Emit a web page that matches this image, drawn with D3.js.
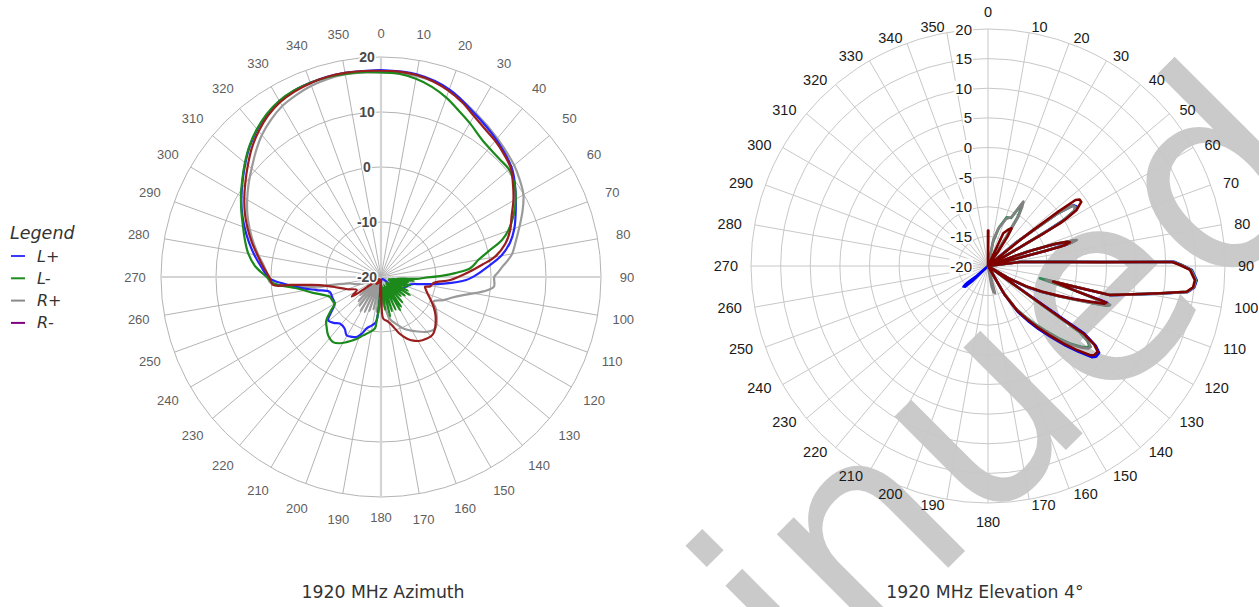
<!DOCTYPE html>
<html><head><meta charset="utf-8">
<script src="https://cdn.jsdelivr.net/npm/d3@7"></script>
<style>body{margin:0;background:#fff;}svg{display:block;}</style>
</head><body>
<svg id="chart" width="1259" height="607"></svg>
<script>
// ---------------- DATA ----------------
const azAngleTicks = [0,10,20,30,40,50,60,70,80,90,100,110,120,130,140,150,160,170,180,190,200,210,220,230,240,250,260,270,280,290,300,310,320,330,340,350];
const azRingTicks = [-20,-10,0,10,20];
const elAngleTicks = azAngleTicks;
const elRingTicks = [-20,-15,-10,-5,0,5,10,15,20];
const legendLabels = ["L+","L-","R+","R-"];
const legendColors = ["#3a3aff","#1e8c1e","#8a8a8a","#800080"];
const titles = ["1920 MHz Azimuth","1920 MHz Elevation 4°"];
const watermarkText = "Discontinued";

// Azimuth series: [angle deg, dB]
const azRplus = [[0,17.2],[10,17.1],[20,16.2],[30,14.4],[40,12.9],[50,11.6],[55,10.8],[60,9.9],[65,8.4],[70,6.8],[75,5.4],[80,4.2],[82.4,3.3],[85,2.2],[88,1.2],[90,0.6],[94.9,0.6],[98,-1.2],[102.4,-4.7],[106,-6.5],[110.3,-7.9],[115.3,-9.5],[120,-8.5],[127,-7.3],[133.5,-6.4],[140.1,-7],[148,-8.4],[156.5,-9.8],[162,-11],[168.2,-12.2],[173,-14.5],[176,-15],[178,-19],[181,-14.5],[184,-19],[187,-13.6],[190,-19],[193,-14],[196,-19],[199,-13.5],[202,-19],[205,-13],[208,-19],[211,-12.8],[214,-18.5],[217,-13.5],[220,-19],[223,-14],[226,-19],[229,-15],[232,-19],[236,-17],[242,-18],[250,-16.5],[255,-15],[258.5,-14.2],[262,-7],[265,-2],[267.6,0.3],[270,0.5],[275,1.3],[280,2.6],[285,4],[290,5.4],[295,6.8],[300,8.1],[305,9.4],[310,10.7],[315,12.2],[320,13.7],[325,14.9],[330,15.9],[335,16.5],[340,17],[345,17.3],[350,17.4],[355,17.3],[360,17.2]];
const azLplus = [[0,17.6],[10,17.4],[20,16.3],[30,14.2],[40,12.6],[50,11],[55,9.7],[60,8.3],[65,7],[70,5.8],[75,4.3],[80,2.2],[85,-0.8],[88,-2.3],[92,-4.5],[96,-8.5],[100,-12.5],[104,-14.5],[110,-15],[117,-15.5],[124,-15.8],[130,-18.5],[140,-19.5],[170,-19.5],[180,-19],[183,-16],[185.7,-12.1],[187.4,-11.5],[191,-11],[195.6,-10.3],[199,-9],[202.2,-8.2],[206,-7.9],[210.6,-7.7],[215,-8.5],[221.5,-8.7],[226,-8],[230.8,-7.6],[235,-9],[240.2,-10.3],[247,-10.4],[253.9,-10.3],[258.6,-8],[262,-5.5],[266,-2.3],[269.3,0.3],[275,1.9],[280,3.4],[285,4.9],[290,6.4],[295,7.9],[300,9.3],[305,10.7],[310,12.2],[315,13.7],[320,15],[325,16.1],[330,16.9],[335,17.4],[340,17.6],[345,17.7],[350,17.7],[355,17.6],[360,17.6]];
const azLminus = [[0,17.2],[5,17.1],[10,16.6],[15,15.8],[20,14.7],[25,13.4],[30,12.3],[37,10.9],[45,10.4],[50,10.4],[55,9.6],[60,8.3],[65,6.6],[70,4.6],[73,3],[76.7,0],[80,-2],[84.4,-3.7],[87,-6.5],[89,-9],[91,-12],[93,-13.5],[95,-17],[97,-14],[99,-18],[101,-15],[103,-18.5],[106,-14.5],[108,-18.5],[111,-15],[114,-18.5],[117,-14.5],[120,-18],[122,-13.8],[125,-18],[128,-14.5],[131,-18.5],[134,-15],[137,-18.5],[140,-14],[143,-18.5],[146,-13.5],[148,-18],[150,-13],[153,-18],[156,-13.5],[159,-18.5],[162,-13.5],[165,-18],[167,-12.6],[170,-18],[173,-14],[176,-18.5],[179,-15],[182,-19],[184,-14],[185.7,-12.1],[186.7,-10.6],[192,-9.7],[197,-8.9],[202,-7.8],[207.9,-6.6],[212,-5.8],[216.4,-5.3],[222.3,-5.7],[227,-6.5],[231.6,-7.3],[236,-9],[240.2,-10.3],[244,-10.2],[248.9,-10],[256.9,-7.3],[262.4,-4.5],[266.7,-0.4],[270,0.8],[275,3],[280,4.5],[285,5.6],[290,6.7],[295,8],[300,9.4],[305,10.8],[310,12.3],[315,13.8],[320,15.1],[325,16.2],[330,17],[335,17.4],[340,17.6],[345,17.6],[350,17.5],[355,17.4],[360,17.2]];
const azRminus = [[0,17.5],[5,17.5],[10,17.3],[15,16.8],[20,16],[25,15],[30,13.8],[35,12.9],[40,12.3],[45,11.6],[50,10.8],[55,9.3],[60,7.8],[65,6.2],[70,5],[75,3.4],[80,1],[83,-1.4],[86.6,-3.9],[92.5,-7.4],[96.6,-10.4],[101,-10.9],[102.4,-11.8],[106,-11.5],[110.8,-10.8],[115,-10],[119.6,-9],[125,-7.9],[132.6,-6.6],[137,-6],[140,-5.9],[144,-6.1],[148.5,-6.4],[153,-7],[157.3,-7.9],[162,-9.2],[166.1,-10.7],[171,-11.8],[176.8,-12.4],[179,-15],[181,-19],[183,-16.5],[186,-19.5],[200,-19],[215,-18.5],[225,-19.5],[234,-17],[236,-13.6],[242,-15],[250,-13.5],[258.5,-11.1],[262.5,-8.8],[264.4,-5.2],[265,-3.4],[265.8,-0.3],[270,0.3],[275,1.5],[280,2.8],[285,4.3],[290,5.8],[295,7.3],[300,8.7],[305,10.1],[310,11.6],[315,13.2],[320,14.6],[325,15.8],[330,16.7],[335,17.2],[340,17.5],[345,17.7],[350,17.7],[355,17.6],[360,17.5]];

// Elevation series: [angle deg, dB] in drawing order
const elRminus = [[0,-20],[0,-14],[0.6,-14],[0.8,-20],[22,-20],[25,-13.9],[29,-13],[32,-12.5],[33.5,-14],[35,-17],[37,-20],[49,-20],[51,-13],[51.5,-10.2],[52.3,-5],[53,-1.5],[54,-0.9],[55.5,-0.9],[56.5,-1.6],[57.7,-2.3],[58.8,-4.5],[59.3,-5.9],[59.6,-9],[59.6,-12.4],[60,-16],[61,-20],[68,-20],[69.5,-15],[70.5,-11.9],[71.8,-8],[73,-6],[73.8,-5.6],[74.6,-6.3],[75,-7.4],[75.2,-11],[75.5,-15],[76,-20],[80,-20],[82.9,-14.6],[86.8,-7.8],[88,-1.1],[88.5,5.7],[88.75,11.1],[89.7,12.4],[91.1,14.1],[93.9,15],[95.9,14.8],[97.4,13.8],[99,9.4],[101,5],[103.4,1.1],[103.5,-8.7],[105.9,-4.5],[106.9,-0.2],[107.2,0.9],[108,0.6],[109.3,-1.8],[111,-4.5],[113,-7.2],[115.5,-10],[118,-12.6],[121,-16],[123,-20],[124,-20],[125.5,-11],[125.5,-4.3],[125.3,-0.3],[126.5,2.3],[128,3.5],[130,3.4],[131.1,2.9],[133.5,0.5],[135.8,-1.8],[138.5,-4.5],[141.3,-6.9],[144,-9],[146.9,-11.1],[150,-14.5],[154,-20],[360,-20]];
const elLplus = [[0,-20],[45,-20],[50,-14],[51.8,-10.5],[53,-5],[54.5,-2.3],[56,-2],[57.5,-2.6],[58.8,-5],[59.3,-8],[59.8,-13],[61,-20],[68,-20],[70,-13],[71.8,-8.5],[73.2,-6],[74,-5.2],[74.8,-6.5],[75.3,-10],[76,-20],[80,-20],[82.9,-14.3],[86.8,-7.4],[88,-0.8],[88.5,6],[88.7,11.4],[89.7,12.7],[91.1,14.4],[93.9,15.3],[95.9,15],[97.4,14],[99,9.6],[101,5.2],[103.4,1.3],[103.5,-8.5],[105.9,-4.2],[106.9,0],[107.2,1.1],[108,0.8],[109.3,-1.5],[111,-4.3],[113,-7],[115.5,-9.7],[118,-12.3],[121,-16],[123,-20],[124,-20],[125.3,-11],[125.2,-4.3],[125,-0.2],[126.5,2.6],[128,3.8],[130,3.8],[131.3,3.3],[133.5,1],[135.8,-1.3],[138.5,-4],[141.3,-6.4],[144,-8.6],[146.9,-10.8],[150,-14.5],[154,-20],[224,-20],[226,-16.5],[228,-14.8],[230,-14.6],[231,-15.5],[229,-17.5],[232,-20],[360,-20]];
const elLminus = [[0,-20],[10,-20],[12,-15.8],[16,-13.2],[21,-11.2],[25.7,-11],[28.5,-8.2],[30,-9],[31.4,-10.5],[32.3,-14.3],[34,-20],[45,-20],[50,-14],[51.8,-10.5],[53,-5.2],[54.5,-2.5],[56,-2.2],[57.5,-2.8],[58.8,-5.2],[59.3,-8.2],[59.8,-13],[61,-20],[68,-20],[70,-13],[71.8,-8],[73.2,-5.5],[73.8,-4.8],[74.6,-6],[75.2,-10],[76,-20],[80,-20],[82.9,-14.4],[86.8,-7.6],[88,-0.9],[88.5,5.9],[88.75,11.3],[89.7,12.6],[91.1,14.3],[93.9,15.2],[95.9,14.9],[97.4,13.9],[99,9.5],[101,5.1],[103.3,1.2],[103.3,-11],[105.9,-4],[107.5,0.5],[107.7,1.6],[108.4,1.2],[109.5,-1.2],[111,-4],[113,-6.8],[115.5,-9.8],[118,-12.5],[121,-16],[123,-20],[124,-20],[125.8,-11],[125.8,-4.5],[125.8,-1],[127,1],[128.2,1.8],[129.5,1.6],[131,0.8],[133.5,-1],[135.8,-3],[138.5,-5.5],[141.3,-7.6],[144,-9.6],[146.9,-11.5],[150,-15],[154,-20],[360,-20]];
const elRplus = [[0,-20],[10,-20],[11.5,-15.5],[15.4,-13.5],[21,-11.5],[25.7,-10.8],[28.8,-7.6],[30.2,-8.6],[31.6,-10.2],[32.5,-14.1],[34,-20],[45,-20],[50,-14],[51.8,-10.5],[53,-5.2],[54.5,-2.4],[56,-2.2],[57.5,-2.8],[58.8,-5.1],[59.3,-8.2],[59.8,-13],[61,-20],[68,-20],[70,-13],[71.8,-7.8],[73.2,-5.2],[73.7,-4.4],[74.6,-5.6],[75.2,-10],[76,-20],[80,-20],[82.9,-14.5],[86.8,-7.7],[88,-1],[88.5,5.8],[88.75,11.2],[89.7,12.5],[91.1,14.2],[93.9,15.1],[95.9,14.9],[97.4,13.9],[99,9.5],[101,5.1],[103.3,1.2],[103.4,-10],[105.9,-4],[107.5,0.5],[107.7,1.6],[108.4,1.3],[109.5,-1.1],[111,-4],[113,-6.8],[115.5,-9.8],[118,-12.5],[121,-16],[123,-20],[124,-20],[125.8,-11],[125.8,-4.3],[125.8,-0.8],[127,1.2],[128.2,2.1],[129.5,1.9],[131,1],[133.5,-0.8],[135.8,-2.8],[138.5,-5.3],[141.3,-7.4],[144,-9.4],[146.9,-11.4],[150,-15],[154,-20],[163,-20],[165.5,-15.3],[168,-15.5],[170,-16.5],[172,-20],[360,-20]];

// ---------------- DRAW ----------------
const svg = d3.select("#chart");
const rad = d => d * Math.PI / 180;

// Watermark (behind everything)
svg.append("text")
  .attr("transform", "translate(1334,182) rotate(-45)")
  .attr("x", 0).attr("y", 0).attr("text-anchor", "end")
  .attr("font-family", "DejaVu Sans, sans-serif").attr("font-size", 265)
  .attr("fill", "#cacaca").text(watermarkText);

function polarGrid(g, cx, cy, rScale, rings, angles, opts) {
  const R = rScale.range()[1];
  const grid = g.append("g").attr("transform", `translate(${cx},${cy})`);
  grid.selectAll("circle.ring").data(rings.filter(v => v > rScale.domain()[0]))
    .join("circle").attr("class","ring").attr("r", d => rScale(d))
    .attr("fill","none").attr("stroke", opts.gridColor).attr("stroke-width", 1);
  grid.selectAll("line.spoke").data(angles).join("line").attr("class","spoke")
    .attr("x1",0).attr("y1",0)
    .attr("x2", d => R * Math.sin(rad(d))).attr("y2", d => -R * Math.cos(rad(d)))
    .attr("stroke", d => (opts.axisColor && d % 90 === 0) ? opts.axisColor : opts.gridColor)
    .attr("stroke-width", d => (opts.axisColor && d % 90 === 0) ? opts.axisWidth : 1);
  grid.selectAll("text.ang").data(angles).join("text").attr("class","ang")
    .attr("x", d => opts.labX(d)).attr("y", d => opts.labY(d))
    .attr("text-anchor", d => opts.anchor(d)).attr("dominant-baseline","central")
    .attr("font-family", opts.font).attr("font-size", opts.angSize)
    .attr("fill", opts.angColor).text(d => d);
  return grid;
}

// ===== Azimuth =====
const azCx = 381, azCy = 277;
const rAz = d3.scaleLinear().domain([-20,20]).range([0,220]).clamp(true);
const azG = svg.append("g");
polarGrid(azG, azCx, azCy, rAz, azRingTicks, azAngleTicks, {
  gridColor:"#b4b4b4", axisColor:"#d4d4d4", axisWidth:2.2,
  labX: d => 246 * Math.sin(rad(d)),
  labY: d => d === 0 ? -244 : (d === 180 ? 240 : -246 * Math.cos(rad(d))),
  anchor: () => "middle",
  font:"Liberation Sans, Arial, sans-serif", angSize:13, angColor:"#5e5e5e"});

const azLine = d3.lineRadial().angle(d => rad(d[0])).radius(d => rAz(d[1])).curve(d3.curveCatmullRom.alpha(0.5));
const azSeries = [
  {data: azRplus, color:"#9a9a9a"},
  {data: azLplus, color:"#2424ff"},
  {data: azLminus, color:"#1b8a1b"},
  {data: azRminus, color:"#9a1e1e"}
];
const azPlot = azG.append("g").attr("transform", `translate(${azCx},${azCy})`);
azPlot.selectAll("path").data(azSeries).join("path")
  .attr("d", d => azLine(d.data)).attr("fill","none")
  .attr("stroke", d => d.color).attr("stroke-width", 2.2).attr("stroke-linejoin","round");

azPlot.selectAll("text.rl").data(azRingTicks).join("text").attr("class","rl")
  .attr("x", -14).attr("y", d => -rAz(d))
  .attr("text-anchor","middle").attr("dominant-baseline","central")
  .attr("font-family","Liberation Sans, Arial, sans-serif").attr("font-weight","bold")
  .attr("font-size", 14).attr("fill","#4a4a4a")
  .attr("stroke","#fff").attr("stroke-width",3).attr("paint-order","stroke")
  .text(d => d);

// ===== Elevation =====
const elCx = 988, elCy = 266;
const rEl = d3.scaleLinear().domain([-20,20]).range([0,237]).clamp(true);
const elG = svg.append("g");
polarGrid(elG, elCx, elCy, rEl, elRingTicks, elAngleTicks, {
  gridColor:"#c8c8c8", axisColor:null, axisWidth:1,
  labX: d => (d === 0 || d === 180) ? 0 : 250 * Math.sin(rad(d)),
  labY: d => d === 0 ? -254 : (d === 180 ? 256 : -243 * Math.cos(rad(d))),
  anchor: d => (d === 0 || d === 180) ? "middle" : (d < 180 ? "start" : "end"),
  font:"Liberation Sans, Arial, sans-serif", angSize:14.5, angColor:"#1a1a1a"});

const elLine = d3.lineRadial().angle(d => rad(d[0])).radius(d => rEl(d[1])).curve(d3.curveLinear);
const elSeries = [
  {data: elLplus, color:"#0000ff"},
  {data: elLminus, color:"#2e8b57"},
  {data: elRplus, color:"#808080"},
  {data: elRminus, color:"#800000"}
];
const elPlot = elG.append("g").attr("transform", `translate(${elCx},${elCy})`);
elPlot.selectAll("path").data(elSeries).join("path")
  .attr("d", d => elLine(d.data)).attr("fill","none")
  .attr("stroke", d => d.color).attr("stroke-width", 2.6).attr("stroke-linejoin","round");

const elLab = elPlot.selectAll("g.rl").data(elRingTicks).join("g").attr("class","rl")
  .attr("transform", d => `translate(-16,${-rEl(d)})`);
elLab.append("text").attr("text-anchor","end").attr("dominant-baseline","central")
  .attr("font-family","Liberation Sans, Arial, sans-serif").attr("font-size",15)
  .attr("fill","#1a1a1a").text(d => d);
elLab.each(function() {
  const t = d3.select(this).select("text").node().getBBox();
  d3.select(this).insert("rect","text").attr("x",t.x-1).attr("y",t.y+1)
    .attr("width",t.width+2).attr("height",t.height-2).attr("fill","#fff");
});

// ===== Titles =====
svg.selectAll("text.title").data(titles).join("text").attr("class","title")
  .attr("x", (d,i) => i === 0 ? 383 : 985).attr("y", 592)
  .attr("text-anchor","middle").attr("dominant-baseline","central")
  .attr("font-family","DejaVu Sans, sans-serif").attr("font-size",17.3)
  .attr("fill","#333").text(d => d);

// ===== Legend =====
const leg = svg.append("g");
leg.append("text").attr("x",10).attr("y",239).attr("font-family","DejaVu Sans, sans-serif")
  .attr("font-style","italic").attr("font-size",17.5).attr("fill","#333").text("Legend");
const li = leg.selectAll("g.li").data(legendLabels).join("g").attr("class","li")
  .attr("transform",(d,i) => `translate(0,${256 + i*22.3})`);
li.append("line").attr("x1",11).attr("x2",25).attr("y1",0).attr("y2",0)
  .attr("stroke",(d,i) => legendColors[i]).attr("stroke-width",2);
li.append("text").attr("x",37).attr("y",0).attr("dominant-baseline","central")
  .attr("font-family","DejaVu Sans, sans-serif").attr("font-style","italic")
  .attr("font-size",16).attr("fill","#333").text(d => d);
</script>
</body></html>
